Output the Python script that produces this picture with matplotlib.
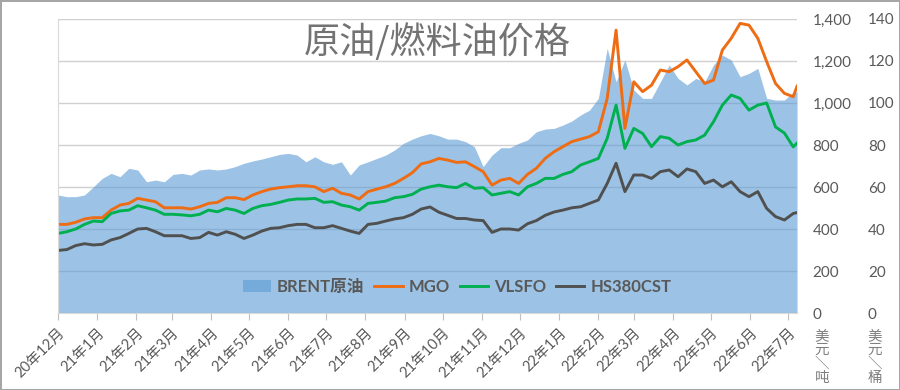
import pandas as pd
import matplotlib.pyplot as plt

plt.rcParams['font.family'] = ['Lato', 'Noto Sans CJK SC', 'DejaVu Sans']

# Dane tygodniowe + ostatni dzien
dates = list(pd.date_range('2020-12-01', periods=84, freq='7D')) + [pd.Timestamp('2022-07-08')]

brent = [56.2, 55.4, 55.4, 56.2, 60.1, 64.1, 66.5, 64.9, 68.9, 68.1, 62.5, 63.3, 62.5, 66.0,
         66.5, 65.7, 68.1, 68.6, 68.1, 68.6, 69.7, 71.3, 72.4, 73.3, 74.4, 75.5, 76.0, 75.2,
         72.0, 74.4, 72.0, 70.8, 72.0, 65.7, 70.5, 72.0, 73.6, 75.2, 77.6, 80.8, 82.8, 84.4,
         85.5, 84.4, 82.8, 82.8, 81.6, 79.2, 69.7, 75.2, 78.7, 78.7, 80.8, 82.4, 86.3, 87.6,
         87.9, 89.5, 91.4, 94.3, 96.6, 102.2, 126.0, 110.1, 120.5, 106.2, 102.2, 102.2, 110.1, 118.1,
         111.7, 108.6, 111.7, 110.1, 118.1, 122.8, 120.5, 112.5, 114.1, 116.5, 102.2, 101.4, 101.4, 105.1,
         105.4]

mgo = [422, 422, 432, 448, 454, 454, 490, 514, 522, 546, 538, 530, 501, 501,
       501, 495, 506, 522, 527, 549, 549, 540, 562, 578, 590, 597, 601, 606,
       606, 601, 578, 594, 570, 562, 543, 578, 590, 601, 617, 641, 668, 710,
       720, 736, 728, 717, 720, 697, 673, 609, 633, 641, 617, 660, 689, 736,
       768, 792, 816, 828, 840, 863, 1022, 1347, 879, 1101, 1054, 1085, 1157, 1149,
       1173, 1205, 1149, 1093, 1109, 1252, 1308, 1379, 1371, 1308, 1197, 1093, 1046, 1030,
       1080]

vlsfo = [379, 387, 400, 422, 438, 435, 474, 486, 490, 511, 501, 490, 470, 470,
         467, 463, 470, 490, 482, 498, 490, 474, 498, 511, 517, 527, 538, 543,
         543, 546, 527, 530, 514, 506, 490, 522, 527, 533, 549, 554, 565, 590,
         601, 609, 601, 597, 617, 594, 597, 562, 570, 578, 562, 601, 617, 641,
         641, 660, 673, 705, 720, 736, 832, 990, 784, 879, 855, 792, 840, 832,
         800, 816, 824, 847, 911, 990, 1038, 1022, 966, 990, 1000, 886, 857, 791,
         809]

hs380 = [298, 302, 321, 330, 324, 327, 348, 359, 379, 400, 403, 387, 368, 368,
         368, 355, 359, 384, 371, 387, 375, 355, 371, 390, 403, 406, 416, 422,
         422, 406, 406, 416, 403, 390, 379, 422, 427, 438, 448, 454, 470, 495,
         505, 480, 465, 450, 450, 443, 440, 384, 400, 400, 395, 425, 440, 465,
         481, 490, 501, 506, 522, 538, 617, 713, 578, 657, 657, 641, 673, 681,
         649, 686, 673, 617, 633, 601, 625, 578, 554, 578, 498, 459, 443, 474,
         478]

month_ticks = pd.date_range('2020-12-01', '2022-07-01', freq='MS')
month_labels = [f"{d.year % 100}年{d.month}月" for d in month_ticks]

unit_left = ['美', '元', '＼', '吨']
unit_right = ['美', '元', '＼', '桶']

fig = plt.figure(figsize=(9, 3.9), dpi=100, facecolor='white',
                 edgecolor='#A6A6A6', linewidth=2)
ax = fig.add_axes([0.0644, 0.1974, 0.8212, 0.7539])
ax2 = ax.twinx()

# Brent jako pole na drugiej osi (pod liniami)
ax.set_zorder(ax2.get_zorder() + 1)
ax.patch.set_visible(False)
ax2.set_axisbelow(True)
ax2.fill_between(dates, brent, 0, color='#5B9BD5', alpha=0.6, linewidth=0, label='BRENT原油')
ax2.set_ylim(0, 140)
ax2.set_yticks(range(0, 141, 20))
ax2.grid(True, axis='y', color='#D0D0D0', linewidth=1)
ax2.tick_params(axis='y', length=0, pad=51, labelsize=11, labelcolor='#595959')
for s in ax2.spines.values():
    s.set_visible(False)

ax.plot(dates, mgo, color='#EE6C14', linewidth=2.1, label='MGO')
ax.plot(dates, vlsfo, color='#00B050', linewidth=2.1, label='VLSFO')
ax.plot(dates, hs380, color='#505050', linewidth=2.1, label='HS380CST')

ax.set_ylim(0, 1400)
ax.set_yticks(range(0, 1401, 200))
ax.yaxis.set_major_formatter(plt.FuncFormatter(lambda v, p: f"{int(v):,}"))
ax.yaxis.tick_right()
ax.tick_params(axis='y', length=0, pad=11, labelsize=11, labelcolor='#595959')

ax.set_xlim(pd.Timestamp('2020-12-01'), pd.Timestamp('2022-07-08'))
ax.set_xticks(month_ticks)
ax.set_xticklabels(month_labels, rotation=45, ha='right', va='top', rotation_mode='anchor')
ax.tick_params(axis='x', length=5, color='#BFBFBF', labelsize=10.5, labelcolor='#595959', pad=4)

for k in ['top', 'right']:
    ax.spines[k].set_visible(False)
ax.spines['left'].set_color('#D9D9D9')
ax.spines['bottom'].set_color('#D9D9D9')

# Legenda
h2, l2 = ax2.get_legend_handles_labels()
h1, l1 = ax.get_legend_handles_labels()
leg = ax.legend(h2 + h1, l2 + l1, loc='lower center', bbox_to_anchor=(0.54, 0.01), ncol=4,
                frameon=False, handlelength=1.7, columnspacing=0.6, handletextpad=0.35,
                prop={'size': 12, 'weight': 'bold'})
for t in leg.get_texts():
    t.set_color('#595959')

fig.text(0.486, 0.892, '原油/燃料油价格', fontsize=26, color='#737373', weight='medium',
         ha='center', va='center', family=['Noto Sans CJK SC', 'DejaVu Sans'])

# Jednostki pod osiami (pionowo)
for i, (a, b) in enumerate(zip(unit_left, unit_right)):
    y = 1 - (336 + 14 * i) / 390
    fig.text(0.913, y, a, fontsize=10.5, color='#808080', ha='center', va='center',
             family=['Noto Sans CJK SC', 'DejaVu Sans'])
    fig.text(0.972, y, b, fontsize=10.5, color='#808080', ha='center', va='center',
             family=['Noto Sans CJK SC', 'DejaVu Sans'])

plt.savefig('out.png', dpi=100, facecolor='white', edgecolor='#A6A6A6')
